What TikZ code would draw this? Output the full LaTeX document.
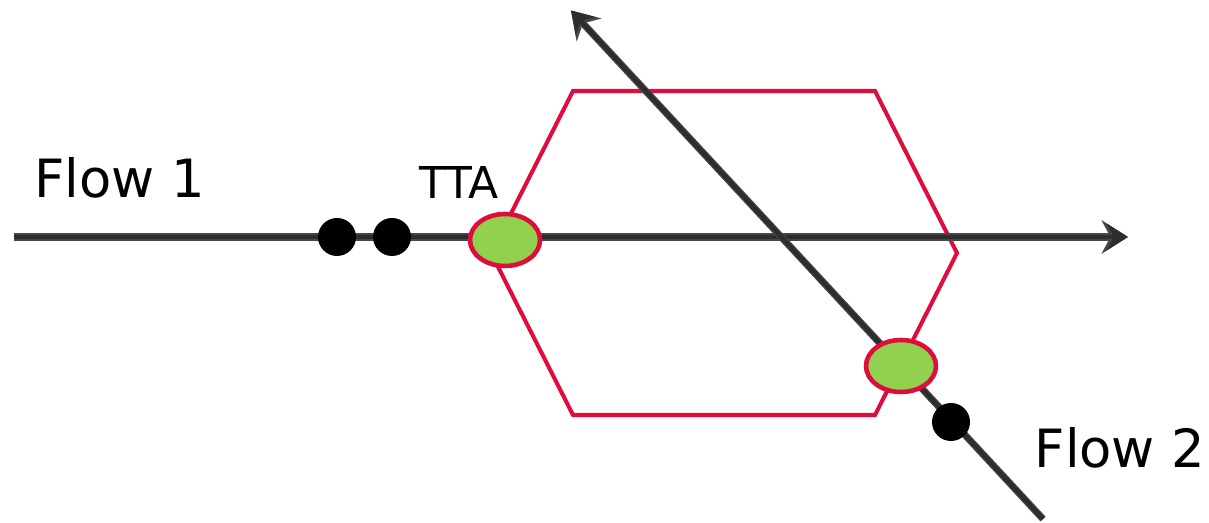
\documentclass[tikz,border=0pt]{standalone}
\usepackage{fontspec}
\setmainfont{DejaVu Sans}
\usepackage{tikz}
\usetikzlibrary{arrows.meta}
\usetikzlibrary{shapes.geometric,positioning}
\definecolor{hexred}{RGB}{222,14,60}
\definecolor{ttagreen}{RGB}{146,208,80}
\definecolor{flowgray}{RGB}{45,45,45}
\tikzset{
    flowline/.style={
        line width=5pt,
        gray!55!black,
        -{Stealth[length=15pt, width=19pt, inset=5pt]}
    },
    % inner dark part of the flow lines
    flowcore/.style={
        line width=2.4pt,
        flowgray,
        -{Stealth[length=12pt, width=15pt, inset=4pt]}
    },
    ttanode/.style={
        ellipse,
        draw=hexred,
        line width=2.6pt,
        fill=ttagreen,
        minimum width=1.4cm,
        minimum height=1.04cm,
        inner sep=0pt
    },
    blackdot/.style={
        circle,
        fill=black,
        minimum size=0.76cm,
        inner sep=0pt
    }
}

\begin{document}
\begin{tikzpicture}[>=stealth]
        \useasboundingbox (0,0) rectangle (24.18,10.46);

        \path
        (0.28,5.72) coordinate (f1start)
        (22.56,5.72) coordinate (f1end)
        (20.86,0.08) coordinate (f2start)
        (11.42,10.25) coordinate (f2end)
        ;

        % hexagon
        \draw[line width=2.3pt, hexred, line join=miter]
        (11.46,8.64) -- (17.5,8.64) -- (19.14,5.4) -- (17.5,2.16)
        -- (11.46,2.16) -- (9.82,5.4) -- cycle;

        \draw[flowline] (f1start) -- (f1end);
        \draw[flowcore] (f1start) -- (f1end);
        \draw[flowline, line width=4pt] (f2start) -- (f2end);
        \draw[flowcore, line width=2.6pt] (f2start) -- (f2end);

        \node[blackdot] (dot1) at (6.74,5.72) {};
        \node[blackdot] (dot2) at (7.84,5.72) {};
        \node[blackdot] (dot3) at (19.02,2.02) {};

        \node[ttanode] (tta1) at (10.1,5.66) {};
        \node[ttanode] (tta2) at (18.02,3.14) {};

        \node[font=\fontsize{30}{35}\selectfont] (flow1) at (2.4,6.9) {Flow 1};
        \node[font=\fontsize{25}{30}\selectfont] (tta) at (9.18,6.82) {TTA};
        \node[font=\fontsize{30}{35}\selectfont] (flow2) at (22.4,1.5) {Flow 2};
\end{tikzpicture}
\end{document}
